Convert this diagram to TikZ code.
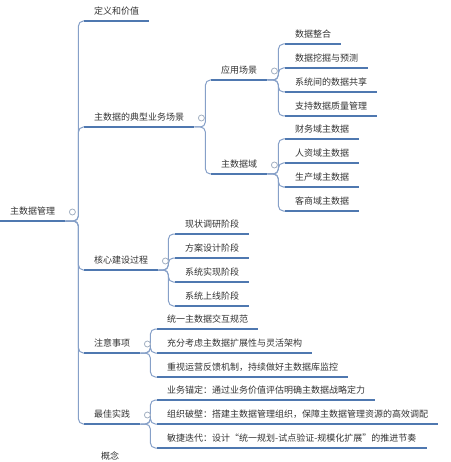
\documentclass[tikz,border=0pt]{standalone}
\usepackage{fontspec}
\setmainfont{Noto Sans CJK SC}
\usetikzlibrary{calc}

\definecolor{linie}{HTML}{4F78B0}
\definecolor{ast}{HTML}{86A0C8}
\definecolor{knopf}{HTML}{A3B0C2}
\definecolor{schrift}{HTML}{333333}

\begin{document}
\begin{tikzpicture}[x=1pt,y=-1pt,
    topic/.style={anchor=south west, inner xsep=10pt, inner ysep=5pt,
        text height=8pt, text depth=1pt, text=schrift,
        font=\fontsize{9}{10}\selectfont},
    uline/.style={draw=linie, line width=1.8pt},
    branch/.style={draw=ast, line width=1pt, rounded corners=5pt},
    knob/.style={circle, draw=knopf, fill=white, line width=0.8pt,
        inner sep=0pt, minimum size=6pt}]
    \useasboundingbox (0,0) rectangle (450,462);

    % Wurzel
    \node[topic] (root) at (0,221) {主数据管理};

    % Ebene 1
    \node[topic] (dyjz) at (84,21) {定义和价值};
    \node[topic] (dxcj) at (84,127) {主数据的典型业务场景};
    \node[topic] (hxjs) at (84,270) {核心建设过程};
    \node[topic] (zysx) at (84,353) {注意事项};
    \node[topic] (zjsj) at (84,424) {最佳实践};

    % Ebene 2
    \node[topic] (yycj) at (211,80) {应用场景};
    \node[topic] (zsjy) at (211,174) {主数据域};

    % Anwendungen
    \node[topic] (sjzh) at (285,44) {数据整合};
    \node[topic] (sjwj) at (285,68) {数据挖掘与预测};
    \node[topic] (xtgx) at (285,92) {系统间的数据共享};
    \node[topic] (zlgl) at (285,116) {支持数据质量管理};

    % Datendomaenen
    \node[topic] (cwy) at (285,139) {财务域主数据};
    \node[topic] (rzy) at (285,163) {人资域主数据};
    \node[topic] (scy) at (285,187) {生产域主数据};
    \node[topic] (ksy) at (285,211) {客商域主数据};

    % Phasen
    \node[topic] (xzdy) at (175,234) {现状调研阶段};
    \node[topic] (fasj) at (175,258) {方案设计阶段};
    \node[topic] (xtsx) at (175,282) {系统实现阶段};
    \node[topic] (xtsxx) at (175,306) {系统上线阶段};

    % Hinweise
    \node[topic] (tygf) at (157,329) {统一主数据交互规范};
    \node[topic] (cfkl) at (157,353) {充分考虑主数据扩展性与灵活架构};
    \node[topic] (zsyy) at (157,377) {重视运营反馈机制，持续做好主数据库监控};

    % Praxis
    \node[topic] (ywmd) at (157,400) {业务锚定：通过业务价值评估明确主数据战略定力};
    \node[topic] (zzpb) at (157,424) {组织破壁：搭建主数据管理组织，保障主数据管理资源的高效调配};
    \node[topic] (mjdd) at (157,448) {敏捷迭代：设计“统一规划-试点验证-规模化扩展”的推进节奏};

    % unten am Rand
    \node[topic, anchor=center, inner sep=0pt] (gn) at (110,456) {概念};

    % Aeste
    \foreach \c in {dyjz,dxcj,hxjs,zysx,zjsj}
        \draw[branch] (root.south east) -- ++(13,0) |- (\c.south west);
    \foreach \c in {yycj,zsjy}
        \draw[branch] (dxcj.south east) -- ++(11,0) |- (\c.south west);
    \foreach \c in {sjzh,sjwj,xtgx,zlgl}
        \draw[branch] (yycj.south east) -- ++(11,0) |- (\c.south west);
    \foreach \c in {cwy,rzy,scy,ksy}
        \draw[branch] (zsjy.south east) -- ++(11,0) |- (\c.south west);
    \foreach \c in {xzdy,fasj,xtsx,xtsxx}
        \draw[branch] (hxjs.south east) -- ++(10,0) |- (\c.south west);
    \foreach \c in {tygf,cfkl,zsyy}
        \draw[branch] (zysx.south east) -- ++(10,0) |- (\c.south west);
    \foreach \c in {ywmd,zzpb,mjdd}
        \draw[branch] (zjsj.south east) -- ++(10,0) |- (\c.south west);

    % Unterstriche
    \foreach \n in {root,dyjz,dxcj,hxjs,zysx,zjsj,yycj,zsjy,sjzh,sjwj,xtgx,zlgl,
        cwy,rzy,scy,ksy,xzdy,fasj,xtsx,xtsxx,tygf,cfkl,zsyy,ywmd,zzpb,mjdd}
        \draw[uline] (\n.south west) -- (\n.south east);

    % Knoepfe
    \foreach \n in {root,dxcj,hxjs,zysx,zjsj,yycj,zsjy}
        \node[knob] (k-\n) at ($(\n.south east)+(7,-9)$) {};
\end{tikzpicture}
\end{document}
